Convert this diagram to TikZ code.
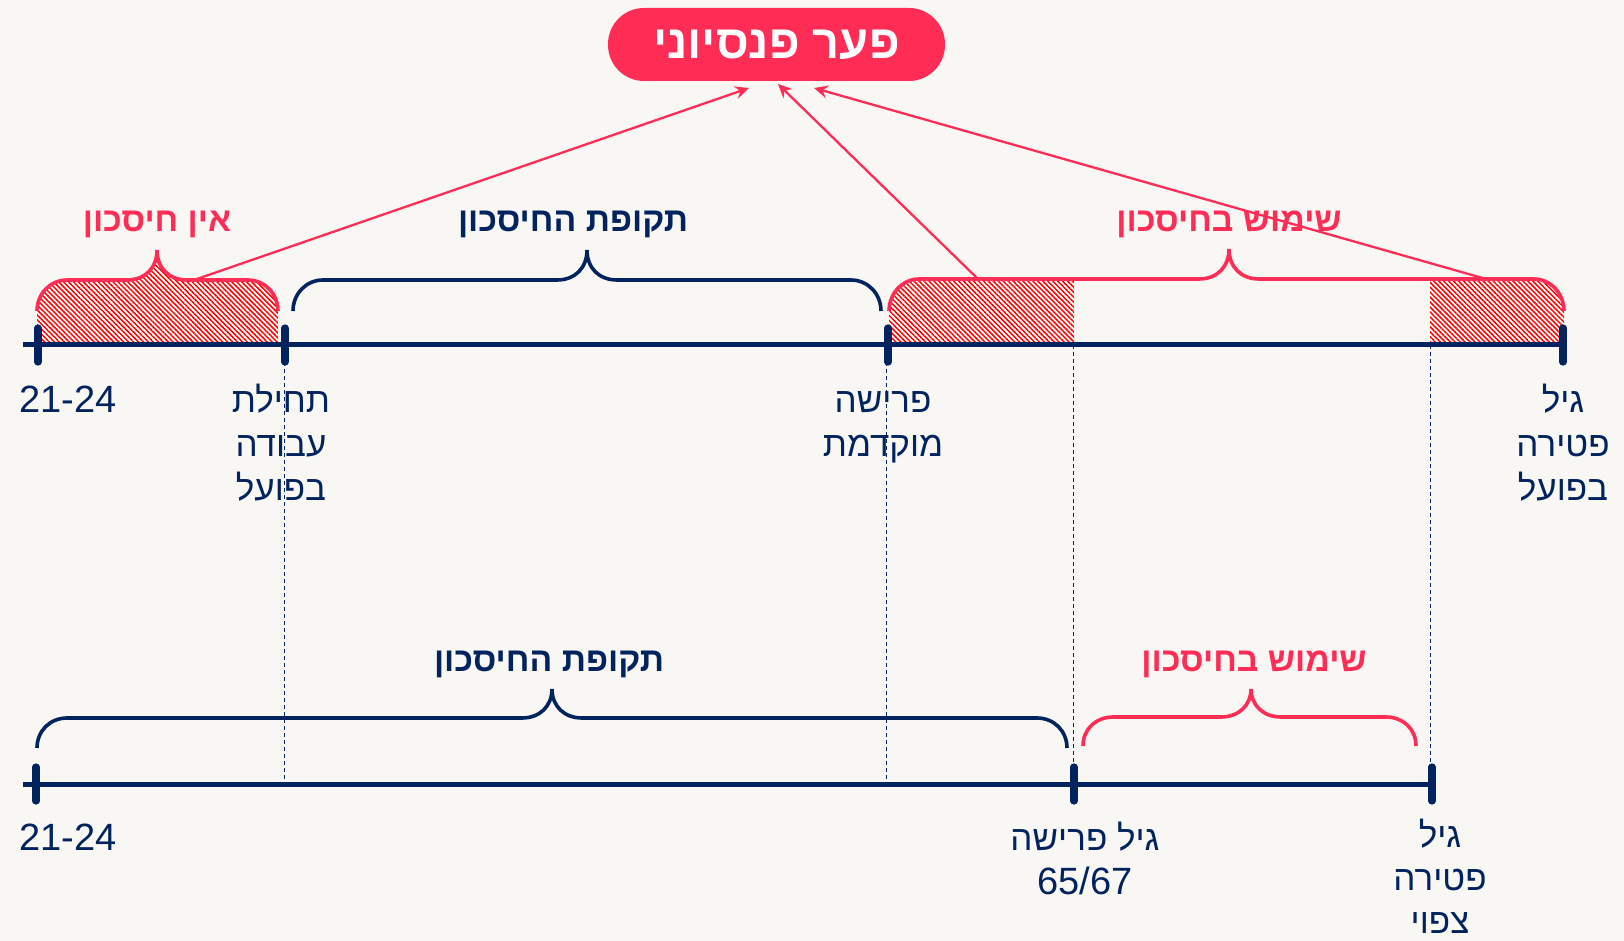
\documentclass[tikz,border=0pt]{standalone}
\usepackage{fontspec}
\setmainfont{Liberation Sans}
\newfontfamily\heb[Script=Hebrew]{Liberation Sans}
\TeXXeTstate=1
\usetikzlibrary{arrows.meta,patterns.meta}
\definecolor{navy}{HTML}{03235E}
\definecolor{rose}{HTML}{FF2D55}
\definecolor{hatchred}{HTML}{FF0000}
\definecolor{paper}{HTML}{F8F7F4}
% right-to-left run, set slightly smaller than the digits beside it
\newcommand\rtl[1]{\beginR #1\endR}
\newcommand\hb[1]{{\fontsize{17.5}{22}\selectfont\beginR #1\endR}}
\newcommand\fl{\rule{0pt}{15pt}}
% curly brace: #1 left x, #2 right x, #3 tip x, #4 foot y, #5 bar y, #6 tip y
\newcommand\bracepath[6]{(#1,#4) .. controls (#1,#4-17) and (#1+13,#5) .. (#1+30,#5)
  -- (#3-30,#5) .. controls (#3-12,#5) and (#3,#5-12) .. (#3,#6)
  .. controls (#3,#5-12) and (#3+12,#5) .. (#3+30,#5)
  -- (#2-30,#5) .. controls (#2-13,#5) and (#2,#4-17) .. (#2,#4)}
\tikzset{
  axisline/.style={draw=navy, line width=2.5pt},
  tickmark/.style={draw=navy, line width=3.6pt, line cap=round},
  guide/.style={draw=navy, line width=0.5pt, dash pattern=on 2pt off 1.5pt},
  navybrace/.style={draw=navy, line width=1.8pt},
  rosebrace/.style={draw=rose, line width=1.8pt},
  hatch/.style={preaction={fill=white}, pattern={Lines[angle=-45,distance=1.75pt,line width=0.75pt]}, pattern color=hatchred},
  ticklabel/.style={text=navy, align=center, inner sep=0pt, anchor=north,
    font=\heb\fontsize{19}{22}\selectfont},
  roselabel/.style={text=rose, inner sep=0pt, anchor=base, font=\heb\bfseries\fontsize{16.9}{20}\selectfont},
  navylabel/.style={text=navy, inner sep=0pt, anchor=base, font=\heb\bfseries\fontsize{16.9}{20}\selectfont},
  pill/.style={fill=rose, rounded corners=18pt, minimum width=168.5pt, minimum height=36.5pt,
    text=white, inner sep=0pt, font=\heb\bfseries\fontsize{23.5}{28}\selectfont},
  link/.style={draw=rose, line width=1.15pt, -{Stealth[length=7pt,width=6.5pt,inset=2.5pt]}}
}
\begin{document}
\begin{tikzpicture}[x=0.5pt,y=-0.5pt]
\useasboundingbox (0,0) rectangle (1624,941);
\fill[paper] (0,0) rectangle (1624,941);

% hatched periods without savings
\fill[hatch] \bracepath{37}{278}{157}{311}{280}{250} -- (278,345) -- (37,345) -- cycle;
\fill[hatch] (889,345) -- (889,311) .. controls (889,294) and (902,280) .. (919,280)
  -- (1074,280) -- (1074,345) -- cycle;
\fill[hatch] (1430,345) -- (1430,280) -- (1534,280) .. controls (1551,280) and (1564,294) .. (1564,311)
  -- (1564,345) -- cycle;

% axis points
\coordinate (a0) at (38,345);
\coordinate (a1) at (285,345);
\coordinate (a2) at (888,345);
\coordinate (a3) at (1563,345);
\coordinate (b0) at (36,784);
\coordinate (b1) at (1074,784);
\coordinate (b2) at (1432,784);

% vertical guides
\draw[guide] (284,362) -- (284,784);
\draw[guide] (886,362) -- (886,784);
\draw[guide] (1073,345) -- (1073,767);
\draw[guide] (1430,345) -- (1430,767);

% time axes
\draw[axisline] (23,345) -- (1564,345);
\draw[axisline] (23,784) -- (1432,784);
\foreach \p in {a0,a1,a2,a3,b0,b1,b2}
  \draw[tickmark] ([yshift=-8.5pt]\p) -- ([yshift=8.5pt]\p);

% braces
\draw[rosebrace] \bracepath{37}{278}{157}{311}{280}{250};
\draw[navybrace] \bracepath{293}{881}{587}{311}{280}{250};
\draw[rosebrace] \bracepath{889}{1564}{1229}{311}{279}{249};
\draw[navybrace] \bracepath{37}{1067}{552}{748}{718}{689};
\draw[rosebrace] \bracepath{1083}{1416}{1251}{746}{717}{689};

% brace labels
\node[roselabel] (noSave) at (157,232) {\rtl{אין חיסכון}};
\node[navylabel] (saveTop) at (573,232) {\rtl{תקופת החיסכון}};
\node[roselabel] (useTop) at (1229,232) {\rtl{שימוש בחיסכון}};
\node[navylabel] (saveBot) at (549,671) {\rtl{תקופת החיסכון}};
\node[roselabel] (useBot) at (1254,671) {\rtl{שימוש בחיסכון}};

% tick labels
\node[ticklabel] (l0) at (68,382) {\fl 21-24};
\node[ticklabel] (l1) at (281,382) {\fl\hb{תחילת}\\\hb{עבודה}\\\hb{בפועל}};
\node[ticklabel] (l2) at (883,382) {\fl\hb{פרישה}\\\hb{מוקדמת}};
\node[ticklabel] (l3) at (1563,382) {\fl\hb{גיל}\\\hb{פטירה}\\\hb{בפועל}};
\node[ticklabel] (m0) at (68,820) {\fl 21-24};
\node[ticklabel] (m1) at (1085,820) {\fl\hb{גיל פרישה}\\65/67};
\node[ticklabel, font=\heb\fontsize{19}{21.5}\selectfont] (m2) at (1440,817) {\fl\hb{גיל}\\\hb{פטירה}\\\hb{צפוי}};

% pension gap
\node[pill] (gap) at (776.5,44.5) {\rtl{פער פנסיוני}};
\coordinate (e1) at (749,88);
\coordinate (e2) at (778,84);
\coordinate (e3) at (814,88);
\coordinate (s1) at (194,280);
\coordinate (s2) at (978,279);
\coordinate (s3) at (1486,279);
\draw[link] (s1) -- (e1);
\draw[link] (s2) -- (e2);
\draw[link] (s3) -- (e3);
\end{tikzpicture}
\end{document}
